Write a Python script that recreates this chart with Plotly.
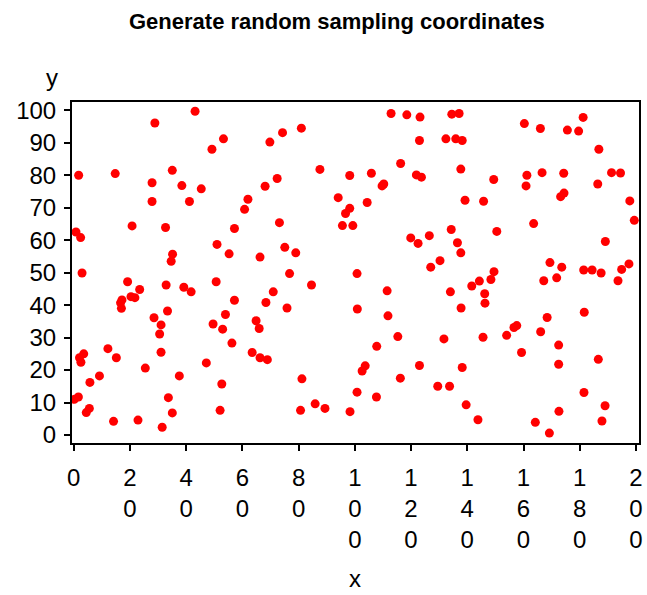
import plotly.graph_objects as go

# ---- data ----
x_vals = [
    43.2, 28.9, 53.3, 49.2, 1.8, 14.8, 35.1, 27.9, 38.5, 45.4, 27.9, 41.2, 62.0, 60.8, 20.8, 32.7, 57.2, 0.85, 2.5, 51.0, 55.3, 35.2, 34.7, 66.3, 3.0,
    112.9, 118.5, 123.2, 81.0, 74.3, 69.8, 123.0, 132.4, 116.3, 87.6, 98.2, 105.9, 121.9, 123.7, 72.4, 68.1, 110.3, 109.7, 94.1, 98.2, 96.7, 104.4, 73.2, 95.6, 99.3, 119.9, 122.5, 126.5, 75.1, 79.0, 130.3, 127.0, 76.8, 100.8,
    134.5, 137.1, 135.9, 138.2, 160.3, 166.0, 181.2, 175.6, 179.6, 186.8, 137.7, 149.4, 161.2, 166.6, 174.3, 191.3, 194.5, 160.9, 186.4, 174.4, 173.2, 139.2, 145.8, 197.8, 199.4, 163.6, 134.3, 150.5, 189.1, 136.5, 137.7, 169.4, 173.6, 149.5, 181.4, 184.4, 187.6, 194.9, 197.5, 171.8,
    19.2, 23.5, 20.4, 21.8, 17.2, 16.7, 17.0, 32.9, 39.2, 41.8, 50.7, 57.2, 33.4, 28.6, 31.1, 30.6, 31.1, 49.6, 53.0, 54.0, 56.3, 64.9, 66.0, 63.5, 66.3, 68.9, 12.2, 15.2, 2.1, 3.6, 2.6, 25.5, 47.2, 9.2, 5.8, 37.6, 52.7, 0.25, 1.7, 5.6, 4.5, 33.7, 35.1, 52.1, 14.2, 22.9, 31.5,
    84.6, 71.0, 68.4, 75.9, 100.9, 111.5, 111.8, 134.0, 115.3, 107.8, 131.7, 103.7, 102.6, 123.0, 81.2, 116.2, 129.5, 133.7, 100.8, 107.7, 85.9, 89.4, 80.7, 98.3,
    148.4, 144.3, 141.6, 146.2, 146.3, 137.8, 167.2, 193.6, 181.6, 168.4, 166.1, 157.6, 156.6, 154.0, 145.6, 172.5, 159.3, 172.5, 186.6, 138.2, 181.5, 139.6, 189.0, 172.6, 143.8, 164.2, 187.9, 169.2,
]
y_vals = [
    99.7, 96.1, 91.2, 88.0, 80.0, 80.5, 81.5, 77.7, 76.8, 75.8, 71.9, 71.9, 72.6, 69.5, 64.4, 63.9, 63.6, 62.5, 60.8, 58.7, 55.8, 55.7, 53.5, 54.8, 49.9,
    99.0, 98.6, 97.9, 94.5, 93.1, 90.2, 90.7, 91.2, 83.6, 81.8, 79.9, 80.6, 80.1, 79.4, 79.0, 76.6, 77.3, 76.7, 73.1, 69.8, 68.2, 71.6, 65.4, 64.5, 64.5, 60.7, 59.0, 61.4, 57.8, 56.1, 53.7, 51.7, 49.7, 49.7,
    98.8, 99.0, 91.2, 90.7, 95.9, 94.4, 97.8, 93.9, 93.6, 88.0, 81.9, 78.7, 80.0, 80.8, 80.6, 80.8, 80.7, 76.7, 77.3, 74.5, 73.4, 72.3, 72.0, 72.1, 66.1, 65.1, 63.3, 62.7, 59.6, 59.2, 56.1, 53.1, 51.7, 50.3, 50.8, 50.8, 49.9, 51.0, 52.7, 48.4,
    47.2, 44.8, 42.6, 42.3, 41.6, 40.7, 39.0, 46.2, 45.5, 44.1, 47.2, 41.5, 38.2, 36.1, 33.9, 31.1, 25.5, 34.2, 32.6, 37.1, 28.3, 35.2, 32.8, 25.4, 23.8, 23.2, 26.6, 23.8, 23.8, 25.0, 22.4, 20.6, 22.2, 18.2, 16.2, 18.2, 15.7, 11.0, 11.7, 8.2, 6.9, 11.5, 6.8, 7.6, 4.2, 4.6, 2.4,
    46.2, 44.1, 40.8, 39.1, 38.8, 44.4, 36.7, 44.1, 30.3, 27.3, 29.6, 21.3, 19.7, 21.4, 17.3, 17.5, 15.0, 15.0, 13.2, 11.7, 9.6, 8.2, 7.6, 7.2,
    47.9, 47.4, 45.9, 43.5, 40.6, 39.1, 47.5, 47.5, 37.8, 36.2, 31.8, 33.7, 33.1, 30.7, 30.1, 27.7, 25.4, 21.8, 23.3, 20.8, 13.1, 9.3, 9.0, 7.3, 4.7, 3.9, 4.3, 0.6,
]
x_ticks = [0, 20, 40, 60, 80, 100, 120, 140, 160, 180, 200]
y_ticks = [0, 10, 20, 30, 40, 50, 60, 70, 80, 90, 100]
title_text = "Generate random sampling coordinates"
x_title = "x"
y_title = "y"

# ---- layout geometry (pixels) ----
W, H = 647, 595
L, R, T, B = 72, 639, 102, 443
FONT = "Arial, Liberation Sans, sans-serif"


def px_to_paper(px, py):
    return (px - L) / (R - L), (B - py) / (B - T)


fig = go.Figure(
    go.Scatter(
        x=x_vals, y=y_vals, mode="markers",
        marker=dict(color="#ff0000", size=9, line=dict(width=0)),
        hoverinfo="x+y",
    )
)

x_ticktext = ["<br>".join(str(v)) for v in x_ticks]

fig.update_xaxes(
    range=[-0.57, 201.07], tickmode="array", tickvals=x_ticks, ticktext=x_ticktext,
    showgrid=False, zeroline=False, showline=True, linecolor="black", linewidth=2,
    mirror=True, ticks="outside", ticklen=6, tickwidth=1.5, tickcolor="black",
    tickfont=dict(family=FONT, size=24, color="black"), ticklabelstandoff=6,
    automargin=False,
)
fig.update_yaxes(
    range=[-2.46, 102.55], tickmode="array", tickvals=y_ticks,
    ticktext=[str(v) for v in y_ticks],
    showgrid=False, zeroline=False, showline=True, linecolor="black", linewidth=2,
    mirror=True, ticks="outside", ticklen=6, tickwidth=1.5, tickcolor="black",
    tickfont=dict(family=FONT, size=24, color="black"), ticklabelstandoff=3,
    automargin=False,
)

tx, ty = px_to_paper(336.5, 21)
yx, yy = px_to_paper(52, 77)
xx, xy = px_to_paper(355, 578)

fig.update_layout(
    width=W, height=H,
    margin=dict(l=L, r=W - R, t=T, b=H - B, pad=0, autoexpand=False),
    paper_bgcolor="white", plot_bgcolor="white",
    showlegend=False,
    annotations=[
        dict(text="<b>" + title_text + "</b>", x=tx, y=ty, xref="paper", yref="paper",
             showarrow=False, xanchor="center", yanchor="middle",
             font=dict(family=FONT, size=22, color="black")),
        dict(text=y_title, x=yx, y=yy, xref="paper", yref="paper",
             showarrow=False, xanchor="center", yanchor="middle",
             font=dict(family=FONT, size=24, color="black")),
        dict(text=x_title, x=xx, y=xy, xref="paper", yref="paper",
             showarrow=False, xanchor="center", yanchor="middle",
             font=dict(family=FONT, size=24, color="black")),
    ],
)

fig.write_html(
    "out.html",
    config={"displayModeBar": False},
    post_script="document.body.style.margin='0';document.body.style.padding='0';"
                "document.body.style.overflow='hidden';",
)
